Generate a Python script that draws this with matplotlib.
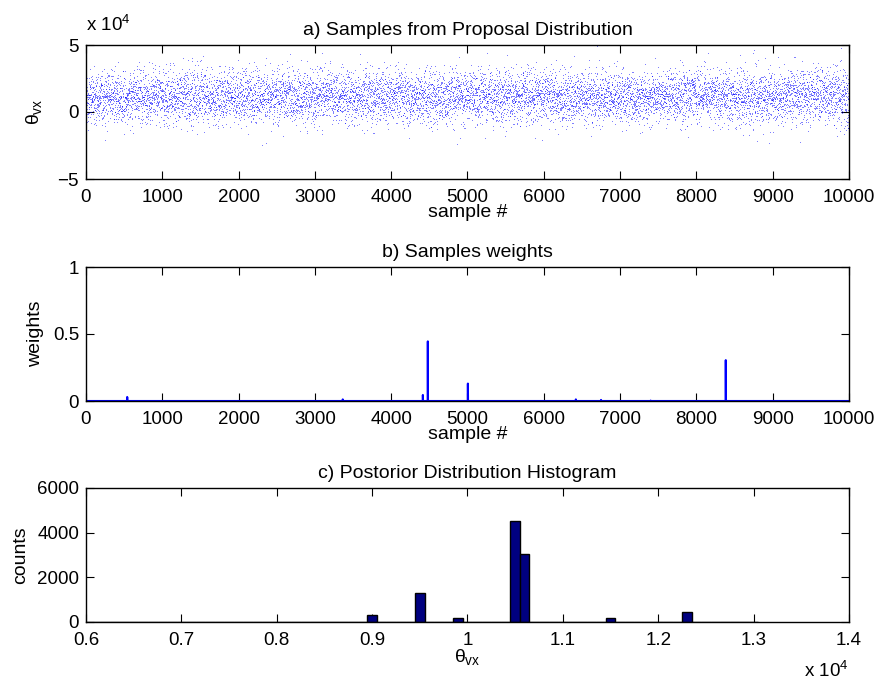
import matplotlib
matplotlib.use("Agg")

import matplotlib.pyplot as plt
import numpy as np

plt.rcParams['font.family'] = ['Liberation Sans', 'DejaVu Sans']
plt.rcParams['font.size'] = 14
plt.rcParams['mathtext.fontset'] = 'custom'
plt.rcParams['mathtext.rm'] = 'Liberation Sans'
plt.rcParams['mathtext.it'] = 'Liberation Sans'
plt.rcParams['axes.unicode_minus'] = True

# --- a) proposal samples: 10000 individual dots cannot be read one by one,
# so only the band read off the picture is kept (centre ~1.1e4, spread ~1e4)
n_samples = 10000
proposal_mean = 1.1e4
proposal_std = 1.0e4
rng = np.random.default_rng(7)
proposal = rng.normal(proposal_mean, proposal_std, n_samples)

# --- b) sample weights: the visible spikes (sample index, weight)
spike_idx = [540, 3365, 4415, 4480, 5005, 6420, 6750, 7400, 8385]
spike_w = [0.03, 0.012, 0.045, 0.445, 0.13, 0.012, 0.008, 0.003, 0.305]

# --- c) posterior histogram (bin centre, count), bin width 100
hist_centres = [9000, 9500, 9900, 10500, 10600, 11500, 12300]
hist_counts = [330, 1320, 160, 4520, 3060, 190, 440]
hist_range = (6000, 13000)
bin_w = 100

sample_no = np.arange(1, n_samples + 1)
weights = np.zeros(n_samples)
for i, w in zip(spike_idx, spike_w):
    weights[i - 1] = w

centres = np.arange(hist_range[0], hist_range[1] + bin_w, bin_w)
counts = np.zeros(len(centres))
for c, k in zip(hist_centres, hist_counts):
    counts[np.argmin(np.abs(centres - c))] = k

W, H = 879, 684
fig = plt.figure(figsize=(W / 100, H / 100), dpi=100)


def make_ax(top_px):
    left, right, height = 86, 849, 134
    return fig.add_axes([left / W, 1 - (top_px + height) / H,
                         (right - left) / W, height / H])


def style(ax):
    ax.tick_params(direction='in', top=True, right=True, length=6,
                   width=0.8, labelsize=13.5)
    ax.tick_params(axis='x', pad=7)
    ax.tick_params(axis='y', pad=5)
    for s in ax.spines.values():
        s.set_linewidth(1.0)


ax1 = make_ax(45)
ax2 = make_ax(267)
ax3 = make_ax(488)

# a)
ax1.plot(sample_no, proposal / 1e4, ',', color='blue', alpha=0.5)
ax1.set_xlim(0, 10000)
ax1.set_ylim(-5, 5)
ax1.set_xticks(np.arange(0, 10001, 1000))
ax1.set_yticks([-5, 0, 5])
ax1.set_title('a) Samples from Proposal Distribution', fontsize=14, pad=7)
ax1.set_xlabel('sample #', labelpad=-1)
ax1.set_ylabel(r'$\theta_{\rm vx}$', labelpad=10)
style(ax1)
fig.text(86 / W, 1 - 31 / H, r'x 10$^{4}$', fontsize=13.5, ha='left',
         va='baseline')

# b)
ax2.plot(sample_no, weights, '-', color='blue', linewidth=1.5)
ax2.set_xlim(0, 10000)
ax2.set_ylim(0, 1)
ax2.set_xticks(np.arange(0, 10001, 1000))
ax2.set_yticks([0, 0.5, 1])
ax2.set_yticklabels(['0', '0.5', '1'])
ax2.set_title('b) Samples weights', fontsize=14, pad=7)
ax2.set_xlabel('sample #', labelpad=-1)
ax2.set_ylabel('weights', labelpad=6)
style(ax2)

# c)
ax3.bar(centres / 1e4, counts, width=bin_w / 1e4, color=(0, 0, 0.5),
        edgecolor='black', linewidth=1.0, zorder=2)
ax3.set_xlim(0.6, 1.4)
ax3.set_ylim(0, 6000)
ax3.set_xticks(np.arange(0.6, 1.41, 0.1))
ax3.set_xticklabels(['0.6', '0.7', '0.8', '0.9', '1', '1.1', '1.2', '1.3',
                     '1.4'])
ax3.set_yticks([0, 2000, 4000, 6000])
ax3.set_title('c) Postorior Distribution Histogram', fontsize=14, pad=7)
ax3.set_xlabel(r'$\theta_{\rm vx}$', labelpad=-1)
ax3.set_ylabel('counts', labelpad=6)
style(ax3)
fig.text(849 / W, 1 - 677 / H, r'x 10$^{4}$', fontsize=13.5, ha='right',
         va='baseline')

fig.savefig('out.png', dpi=100)
